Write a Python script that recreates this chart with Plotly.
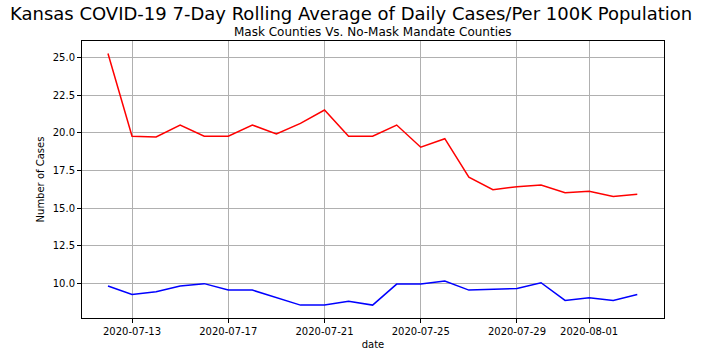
import plotly.graph_objects as go
import pandas as pd

dates = pd.date_range("2020-07-12", "2020-08-03", freq="D").strftime("%Y-%m-%d").tolist()
no_mask = [25.3, 19.78, 19.73, 20.53, 19.78, 19.78, 20.53, 19.93, 20.64, 21.53, 19.78, 19.78,
           20.53, 19.05, 19.62, 17.05, 16.22, 16.42, 16.53, 16.02, 16.12, 15.77, 15.92]
mask = [9.8, 9.24, 9.42, 9.8, 9.96, 9.53, 9.53, 9.04, 8.53, 8.53, 8.78, 8.53,
        9.93, 9.93, 10.13, 9.53, 9.58, 9.64, 10.02, 8.84, 9.02, 8.84, 9.24]
xtick_vals = ["2020-07-13", "2020-07-17", "2020-07-21", "2020-07-25", "2020-07-29", "2020-08-01"]
ytick_vals = [10.0, 12.5, 15.0, 17.5, 20.0, 22.5, 25.0]

font = "DejaVu Sans"
fig = go.Figure()
fig.add_trace(go.Scatter(x=dates, y=no_mask, mode="lines", line=dict(color="red", width=1.5),
                         name="No-Mask Mandate Counties"))
fig.add_trace(go.Scatter(x=dates, y=mask, mode="lines", line=dict(color="blue", width=1.5),
                         name="Mask Counties"))

fig.update_layout(
    width=701, height=356,
    margin=dict(l=82, r=37, t=41, b=38),
    paper_bgcolor="white", plot_bgcolor="white",
    showlegend=False,
    font=dict(family=font, size=10, color="black"),
    annotations=[
        dict(text="Kansas COVID-19 7-Day Rolling Average of Daily Cases/Per 100K Population",
             xref="paper", yref="paper", x=0.5, y=1, xanchor="center", yanchor="bottom",
             yshift=15, xshift=-22, showarrow=False, font=dict(size=18, family=font)),
        dict(text="Mask Counties Vs. No-Mask Mandate Counties",
             xref="paper", yref="paper", x=0.5, y=1, xanchor="center", yanchor="bottom",
             yshift=0, showarrow=False, font=dict(size=12, family=font)),
    ],
)
fig.update_xaxes(
    type="date",
    range=["2020-07-10 22:05", "2020-08-04 02:40"],
    tickvals=xtick_vals, ticktext=xtick_vals,
    showgrid=True, gridcolor="#b0b0b0", gridwidth=1,
    showline=True, linecolor="black", linewidth=1, mirror=True,
    ticks="outside", ticklen=4, tickcolor="black",
    title=dict(text="date", font=dict(size=10), standoff=4),
    zeroline=False, automargin=False,
)
fig.update_yaxes(
    range=[7.67, 26.13],
    tickvals=ytick_vals, ticktext=[f"{v:.1f}" for v in ytick_vals],
    showgrid=True, gridcolor="#b0b0b0", gridwidth=1,
    showline=True, linecolor="black", linewidth=1, mirror=True,
    ticks="outside", ticklen=4, tickcolor="black",
    title=dict(text="Number of Cases", font=dict(size=10), standoff=6),
    zeroline=False, automargin=False,
)
fig.write_html("out.html")
